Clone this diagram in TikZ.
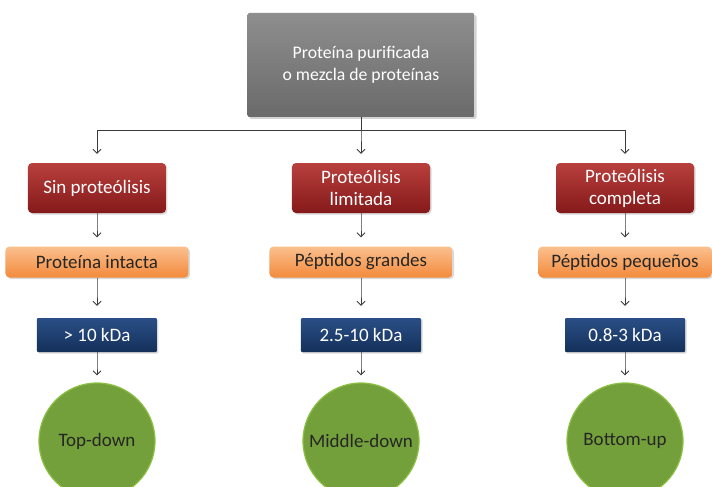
\documentclass[tikz,border=0pt]{standalone}
\usepackage{fontspec}
\setmainfont{Carlito}
\usetikzlibrary{arrows.meta,shadows}

\definecolor{grisTop}{HTML}{8E8E8E}
\definecolor{grisBot}{HTML}{6A6A6A}
\definecolor{rojoTop}{HTML}{B8403D}
\definecolor{rojoBot}{HTML}{85191A}
\definecolor{naranjaTop}{HTML}{FBC08E}
\definecolor{naranjaBot}{HTML}{F38A3C}
\definecolor{azulTop}{HTML}{2A4F86}
\definecolor{azulBot}{HTML}{14305A}
\definecolor{verde}{HTML}{73A03A}
\definecolor{verdeBorde}{HTML}{8CC043}
\definecolor{flecha}{HTML}{3A3A3A}

\begin{document}
\begin{tikzpicture}[
    edge from parent/.style={draw, flecha, line width=0.9pt,
        -{Straight Barb[length=4pt,width=8pt]}, shorten <=3pt, shorten >=6pt},
    edge from parent path={(\tikzparentnode.south) -- (\tikzchildnode.north)},
    level 1/.style={level distance=123pt, sibling distance=264pt,
        edge from parent path={(\tikzparentnode.south) -- ++(0,-13pt)
                               -| (\tikzchildnode.north)},
        edge from parent/.append style={shorten <=0pt, shorten >=9pt}},
    level 2/.style={level distance=74pt},
    level 3/.style={level distance=73pt,
        edge from parent/.append style={shorten >=12pt}},
    level 4/.style={level distance=106pt,
        edge from parent/.append style={shorten >=7pt}},
    every node/.style={font=\fontsize{19}{22}\selectfont, align=center, inner sep=0pt},
    graybox/.style={top color=grisTop, bottom color=grisBot, text=white,
        font=\fontsize{17.7}{22}\selectfont,
        minimum width=227pt, minimum height=104pt, rounded corners=2pt,
        drop shadow={opacity=0.35, shadow xshift=2pt, shadow yshift=-2pt}},
    redbox/.style={top color=rojoTop, bottom color=rojoBot, text=white,
        minimum width=138pt, minimum height=50pt, rounded corners=4pt,
        drop shadow={opacity=0.3, shadow xshift=1.5pt, shadow yshift=-1.5pt}},
    orangebox/.style={top color=naranjaTop, bottom color=naranjaBot, text=black!85,
        minimum width=183pt, minimum height=31pt, rounded corners=4pt,
        drop shadow={opacity=0.3, shadow xshift=1.5pt, shadow yshift=-1.5pt}},
    bluebox/.style={top color=azulTop, bottom color=azulBot, text=white,
        minimum width=120pt, minimum height=34pt, rounded corners=1pt,
        drop shadow={opacity=0.3, shadow xshift=1.5pt, shadow yshift=-1.5pt}},
    greenball/.style={circle, fill=verde, draw=verdeBorde, line width=1.2pt,
        text=black!85, minimum size=116pt}]

\clip (-361pt,65pt) rectangle (351pt,-422pt);
\useasboundingbox (-361pt,65pt) rectangle (351pt,-422pt);

\node[graybox] (prot) {Proteína purificada\\o mezcla de proteínas}
    child {node[redbox] (sin) {Sin proteólisis}
        child {node[orangebox] (intacta) {Proteína intacta}
            child {node[bluebox] (kdaA) {> 10 kDa}
                child {node[greenball] (top) {Top-down}}
            }
        }
    }
    child {node[redbox] (limitada) {Proteólisis\\limitada}
        child {node[orangebox] (grandes) {Péptidos grandes}
            child {node[bluebox] (kdaB) {2.5-10 kDa}
                child {node[greenball] (middle) {Middle-down}}
            }
        }
    }
    child {node[redbox] (completa) {Proteólisis\\completa}
        child {node[orangebox, minimum width=173pt] (pequenos) {Péptidos pequeños}
            child {node[bluebox] (kdaC) {0.8-3 kDa}
                child {node[greenball] (bottom) {Bottom-up}}
            }
        }
    };

\end{tikzpicture}
\end{document}
